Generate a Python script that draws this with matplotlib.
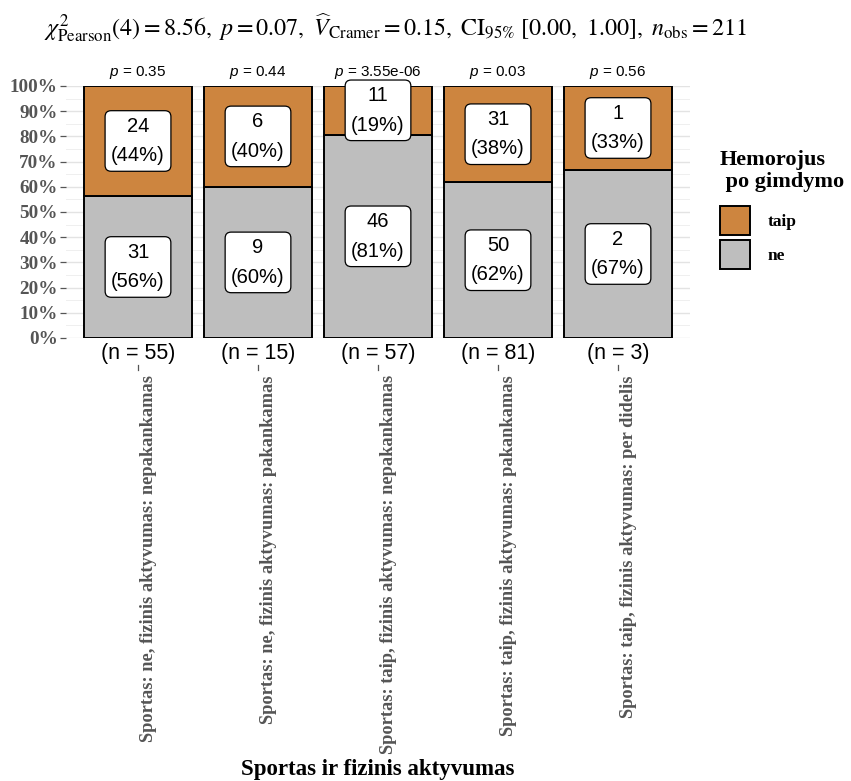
import matplotlib
matplotlib.use("Agg")
import matplotlib.pyplot as plt
from matplotlib.patches import Patch
from matplotlib.lines import Line2D
from matplotlib.ticker import MultipleLocator, FuncFormatter
import numpy as np

plt.rcParams["mathtext.fontset"] = "custom"
plt.rcParams["mathtext.rm"] = "Liberation Sans"
plt.rcParams["mathtext.it"] = "Liberation Sans:italic"

categories = [
    "Sportas: ne, fizinis aktyvumas: nepakankamas",
    "Sportas: ne, fizinis aktyvumas: pakankamas",
    "Sportas: taip, fizinis aktyvumas: nepakankamas",
    "Sportas: taip, fizinis aktyvumas: pakankamas",
    "Sportas: taip, fizinis aktyvumas: per didelis",
]
count_taip = [24, 6, 11, 31, 1]
count_ne = [31, 9, 46, 50, 2]
pct_taip = [44, 40, 19, 38, 33]
pct_ne = [56, 60, 81, 62, 67]
p_values = ["0.35", "0.44", "3.55e-06", "0.03", "0.56"]
n_obs = [55, 15, 57, 81, 3]

col_taip = "#CD853F"
col_ne = "#BEBEBE"
axis_grey = "#555555"

W, H = 851, 781
fig = plt.figure(figsize=(W / 100, H / 100), dpi=100)
ax = fig.add_axes([66 / W, 1 - 338 / H, (690 - 66) / W, (338 - 86) / H])

x = np.arange(1, len(categories) + 1)
frac_ne = np.array(count_ne) / np.array(n_obs)
frac_taip = np.array(count_taip) / np.array(n_obs)

ax.bar(x, frac_ne, width=0.9, color=col_ne, edgecolor="black", linewidth=1.4, zorder=2)
ax.bar(x, frac_taip, bottom=frac_ne, width=0.9, color=col_taip, edgecolor="black",
       linewidth=1.4, zorder=2)

box = dict(boxstyle="round,pad=0.3,rounding_size=0.3", facecolor="white",
           edgecolor="black", linewidth=0.9)
for xi, cn, ct, pn, pt, fn, ft in zip(x, count_ne, count_taip, pct_ne, pct_taip, frac_ne, frac_taip):
    ax.text(xi, fn / 2, f"{cn}\n({pn}%)", ha="center", va="center", fontsize=14.5,
            family="Liberation Sans", linespacing=1.7, bbox=box, zorder=4)
    ax.text(xi, fn + ft / 2, f"{ct}\n({pt}%)", ha="center", va="center", fontsize=14.5,
            family="Liberation Sans", linespacing=1.7, bbox=box, zorder=4)

for xi, pv in zip(x, p_values):
    ax.text(xi, 1.053, f"$p$ = {pv}", ha="center", va="center", fontsize=11,
            family="Liberation Sans", clip_on=False)

trans = ax.get_xaxis_transform()
for xi, n in zip(x, n_obs):
    ax.text(xi, -0.062, f"(n = {n})", ha="center", va="center", fontsize=15.5,
            family="Liberation Sans", transform=trans, clip_on=False)
    ax.add_line(Line2D([xi, xi], [-0.107, -0.125], color=axis_grey, lw=0.9,
                       transform=trans, clip_on=False))

for xi, cat in zip(x, categories):
    ax.text(xi + 0.085, -0.147, cat, rotation=90, ha="center", va="top", fontsize=13.2,
            family="Liberation Serif", fontweight="bold", color=axis_grey,
            transform=trans, clip_on=False)

ax.set_xlim(0.4, 5.6)
ax.set_ylim(0, 1)
ax.set_xticks([])
ax.yaxis.set_major_locator(MultipleLocator(0.1))
ax.yaxis.set_minor_locator(MultipleLocator(0.05))
ax.yaxis.set_major_formatter(FuncFormatter(lambda v, _: f"{v * 100:.0f}%"))
ax.tick_params(axis="y", which="major", length=4, width=0.9, color=axis_grey, pad=2,
               labelsize=13.8, labelcolor=axis_grey)
ax.tick_params(axis="y", which="minor", length=0)
for lab in ax.get_yticklabels():
    lab.set_family("Liberation Serif")
    lab.set_fontweight("bold")
ax.grid(True, which="major", axis="y", color="#E3E3E3", linewidth=1.0, zorder=0)
ax.grid(True, which="minor", axis="y", color="#EFEFEF", linewidth=0.7, zorder=0)
ax.set_axisbelow(True)
for s in ax.spines.values():
    s.set_visible(False)

fig.text(378 / W, 1 - 770 / H, "Sportas ir fizinis aktyvumas", ha="center", va="center",
         fontsize=16.5, family="Liberation Serif", fontweight="bold")

title = (r"$\chi^2_{\mathrm{Pearson}}(4) = 8.56,\ p = 0.07,\ \widehat{V}_{\mathrm{Cramer}} = 0.15,"
         r"\ \mathrm{CI}_{95\%}\ [0.00,\ 1.00],\ n_{\mathrm{obs}} = 211$")
fig.text(395 / W, 1 - 28 / H, title, ha="center", va="center", fontsize=17.3,
         math_fontfamily="stix")

# legend title drawn separately for tighter control of its spacing
fig.text(720 / W, 1 - 150 / H, "Hemorojus\n po gimdymo", ha="left", va="top",
         fontsize=16, family="Liberation Serif", fontweight="bold", linespacing=1.1)

handles = [Patch(facecolor=col_taip, edgecolor="black", linewidth=1.4),
           Patch(facecolor=col_ne, edgecolor="black", linewidth=1.4)]
leg = fig.legend(handles, ["taip", "ne"], loc="upper left",
                 bbox_to_anchor=(720 / W, 1 - 206 / H), frameon=False,
                 prop={"family": "Liberation Serif", "weight": "bold", "size": 12.5},
                 handlelength=1.72, handleheight=2.2, labelspacing=0.3, handletextpad=1.0,
                 borderpad=0, borderaxespad=0)

fig.savefig("out.png", dpi=100)
